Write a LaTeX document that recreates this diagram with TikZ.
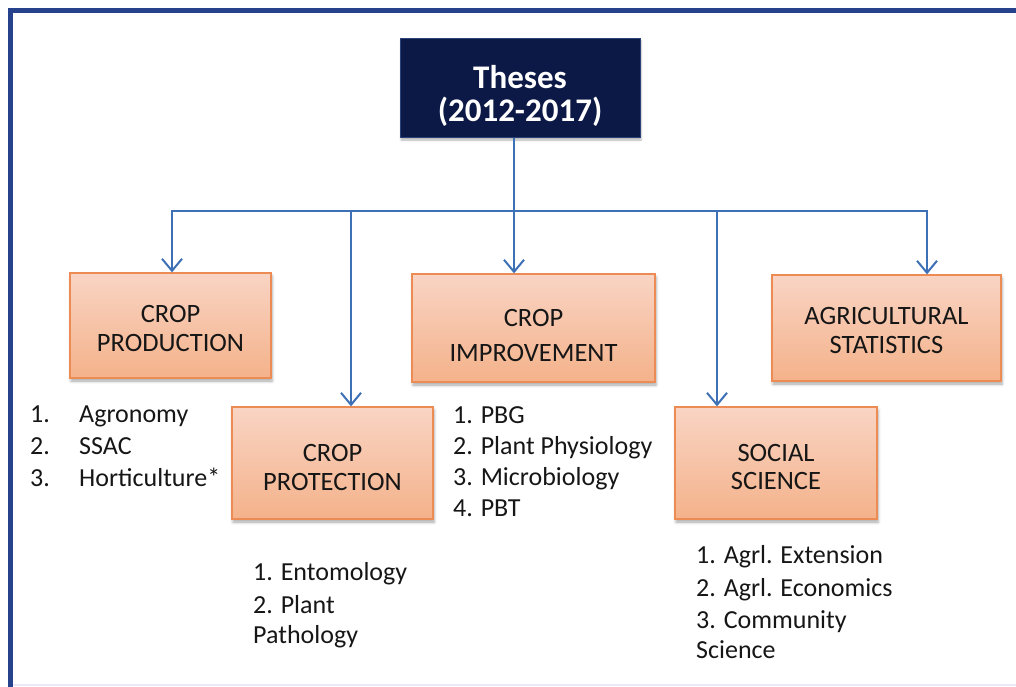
\documentclass[tikz,border=0pt]{standalone}
\usepackage{fontspec}
\setmainfont{Carlito}
\usetikzlibrary{arrows.meta,shadows.blur}

\definecolor{navy}{RGB}{12,24,70}
\definecolor{navyedge}{RGB}{44,66,122}
\definecolor{wire}{RGB}{62,112,182}
\definecolor{framec}{RGB}{38,66,140}
\definecolor{cattop}{RGB}{249,212,196}
\definecolor{catbot}{RGB}{244,178,138}
\definecolor{catedge}{RGB}{236,140,84}
\definecolor{ink}{RGB}{22,22,22}
\definecolor{faint}{RGB}{236,232,248}

\begin{document}
\begin{tikzpicture}[x=1pt,y=-1pt,
  rootbox/.style={draw=navyedge, line width=1pt, fill=navy, text=white,
    font=\fontsize{33}{33}\selectfont\bfseries, align=center, inner sep=0pt,
    blur shadow={shadow xshift=1pt, shadow yshift=-2pt, shadow opacity=30}},
  catbox/.style={draw=catedge, line width=1.3pt, top color=cattop, bottom color=catbot,
    text=ink, align=center, inner sep=0pt,
    font=\fontsize{26.5}{29}\selectfont,
    blur shadow={shadow xshift=1pt, shadow yshift=-3pt, shadow opacity=35, shadow blur radius=3pt}},
  item/.style={text=ink, inner sep=0pt, anchor=base west, font=\fontsize{26}{30}\selectfont},
  wireline/.style={draw=wire, line width=2pt, line join=miter},
  arr/.style={wireline, -{Straight Barb[length=12pt,width=20pt]}},
]
\useasboundingbox (0,0) rectangle (1016,687);

% outer frame: left and top edges, faint bottom edge
\draw[faint, line width=1.5pt] (10,685) -- (1016,685);
\draw[framec, line width=5pt, line cap=rect] (10,687) -- (10,11) -- (1016,11);

% root
\node[rootbox, minimum width=240pt, minimum height=99pt, text height=71pt] (root) at (520,88.5)
  {Theses\\(2012-2017)};

% categories
\node[catbox, minimum width=201pt, minimum height=105pt, text height=51.5pt] (prod) at (170.5,325.5)
  {CROP\\PRODUCTION};
\node[catbox, minimum width=201pt, minimum height=112pt, text height=55.5pt] (prot) at (332.5,463)
  {CROP\\PROTECTION};
\node[catbox, minimum width=243pt, minimum height=108pt, text height=67pt,
  font=\fontsize{26.5}{35}\selectfont] (impr) at (533.5,328)
  {CROP\\IMPROVEMENT};
\node[catbox, minimum width=202pt, minimum height=112pt, text height=53.5pt,
  font=\fontsize{26.5}{28}\selectfont] (soc) at (776,463)
  {SOCIAL\\SCIENCE};
\node[catbox, minimum width=229pt, minimum height=106pt, text height=51.5pt] (stat) at (886.5,328)
  {AGRICULTURAL\\STATISTICS};

% distribution bus
\coordinate (b1) at (172,211);
\coordinate (bm) at (514,211);
\coordinate (b2) at (351,211);
\coordinate (b3) at (717,211);
\coordinate (b4) at (927,211);

\draw[arr] (root.south -| bm) -- (impr.north -| bm);
\draw[arr] (b2) -- (b1) -- (prod.north -| b1);
\draw[wireline] (b2) -- (b3);
\draw[arr] (b3) -- (b4) -- (stat.north -| b4);
\draw[arr] (b2) -- (prot.north -| b2);
\draw[arr] (b3) -- (soc.north -| b3);

% subject lists
\foreach \n/\t [count=\i] in {1./Agronomy, 2./SSAC, 3./Horticulture*} {
  \node[item] (prodn\i) at (30,{422+32*(\i-1)}) {\n};
  \node[item] (prodl\i) at (79,{422+32*(\i-1)}) {\t};
}
\node[item] (prot1) at (253,580) {1. Entomology};
\node[item] (prot2) at (253,613) {2. Plant};
\node[item] (prot3) at (253,643) {Pathology};

\foreach \t [count=\i] in {1. PBG, 2. Plant Physiology, 3. Microbiology, 4. PBT}
  \node[item] (impr\i) at (453,{423+31*(\i-1)}) {\t};

\node[item] (soc1) at (696,563) {1. Agrl. Extension};
\node[item] (soc2) at (696,596) {2. Agrl. Economics};
\node[item] (soc3) at (696,628) {3. Community};
\node[item] (soc4) at (696,658) {Science};
\end{tikzpicture}
\end{document}
